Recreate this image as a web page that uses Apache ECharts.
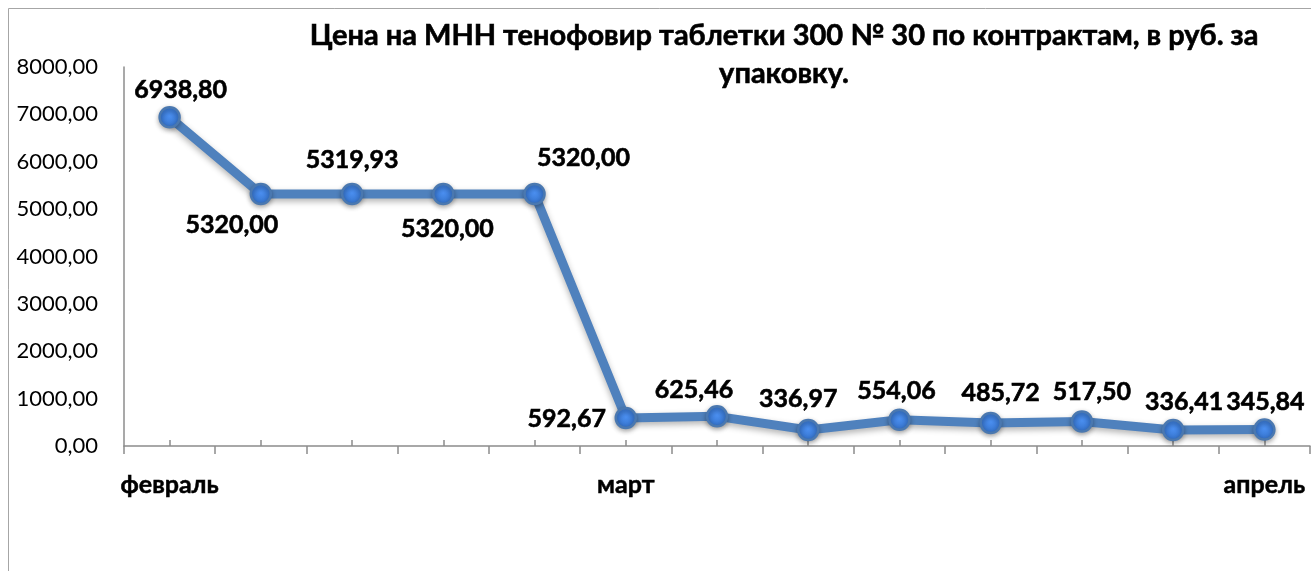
<!DOCTYPE html>
<html>
<head>
<meta charset="utf-8">
<script src="https://cdn.jsdelivr.net/npm/echarts@6/dist/echarts.min.js"></script>
<style>
  html, body { margin: 0; padding: 0; background: #fff; }
  #chart { width: 1311px; height: 571px; }
</style>
</head>
<body>
<div id="chart"></div>
<script>
(function () {

  var titleText = 'Цена на МНН тенофовир таблетки 300 № 30 по контрактам, в руб. за\nупаковку.';
  var categories = ['февраль', '', '', '', '', 'март', '', '', '', '', '', '', 'апрель'];
  var prices = [6938.80, 5320.00, 5319.93, 5320.00, 5320.00, 592.67, 625.46, 336.97, 554.06, 485.72, 517.50, 336.41, 345.84];
  var yTicks = [0, 1000, 2000, 3000, 4000, 5000, 6000, 7000, 8000];

  // label placement per point (as moved by hand in the original)
  var labelOffsets = [[11, 6], [-29, 65], [0, 0], [4, 69], [49, -2], [-59, 35], [-23, 7], [-10, 3], [-3, 5], [10, 4], [10, 4], [11, 6], [1, 6]];

  var fmt = function (v) { return v.toFixed(2).replace('.', ','); };

  var myChart = echarts.init(document.getElementById('chart'));
  var option = {
    backgroundColor: '#fff',
    animation: false,
    title: {
      text: titleText,
      left: 779,
      textAlign: 'center',
      top: 12,
      textStyle: {
        fontFamily: 'Lato',
        fontWeight: 'bold',
        fontSize: 29,
        lineHeight: 38,
        color: '#000',
        textBorderColor: '#000',
        textBorderWidth: 0.6
      }
    },
    graphic: [{
      type: 'polyline',
      shape: { points: [[8.5, 571], [8.5, 8.5], [1311, 8.5]] },
      style: { stroke: '#a6a6a6', lineWidth: 1, fill: null },
      silent: true
    }],
    grid: {
      left: 124,
      right: 1,
      top: 67,
      bottom: 125
    },
    xAxis: [{
      type: 'category',
      data: categories,
      boundaryGap: true,
      axisLine: { lineStyle: { color: '#8c8c8c', width: 1.5 } },
      axisTick: { show: true, length: 8, lineStyle: { color: '#8c8c8c', width: 1.5 } },
      axisLabel: {
        interval: 0,
        margin: 26,
        fontFamily: 'Lato',
        fontWeight: 'bold',
        fontSize: 25,
        color: '#000',
        textBorderColor: '#000',
        textBorderWidth: 0.5
      }
    }, {
      type: 'category',
      data: categories,
      boundaryGap: true,
      position: 'bottom',
      axisLine: { show: false },
      axisTick: { show: true, inside: true, alignWithLabel: true, interval: 0, length: 6, lineStyle: { color: '#8c8c8c', width: 1.5 } },
      axisLabel: { show: false }
    }],
    yAxis: {
      type: 'value',
      min: yTicks[0],
      max: yTicks[yTicks.length - 1],
      interval: 1000,
      axisLine: { show: true, lineStyle: { color: '#8c8c8c', width: 1.5 } },
      axisTick: { show: false },
      splitLine: { show: false },
      axisLabel: {
        margin: 26,
        fontFamily: 'Lato',
        fontSize: 22,
        color: '#000',
        formatter: function (v) { return fmt(v); }
      }
    },
    series: [{
      type: 'line',
      data: prices.map(function (v, i) {
        return {
          value: v,
          label: { offset: labelOffsets[i] }
        };
      }),
      symbol: 'circle',
      symbolSize: 20,
      lineStyle: {
        color: '#4f81bd',
        width: 9,
        shadowColor: 'rgba(0,0,0,0.3)',
        shadowBlur: 6,
        shadowOffsetY: 3
      },
      itemStyle: {
        color: {
          type: 'radial', x: 0.5, y: 0.45, r: 0.6,
          colorStops: [{ offset: 0, color: '#4b8ff0' }, { offset: 1, color: '#2f6cc4' }]
        },
        borderColor: '#4a78b0',
        borderWidth: 2.5,
        shadowColor: 'rgba(0,0,0,0.3)',
        shadowBlur: 5,
        shadowOffsetY: 2
      },
      label: {
        show: true,
        position: 'top',
        distance: 10,
        fontFamily: 'Lato',
        fontWeight: 'bold',
        fontSize: 25,
        color: '#000',
        textBorderColor: '#000',
        textBorderWidth: 0.6,
        formatter: function (p) { return fmt(p.value); }
      }
    }]
  };

  myChart.setOption(option);
})();
</script>
</body>
</html>
